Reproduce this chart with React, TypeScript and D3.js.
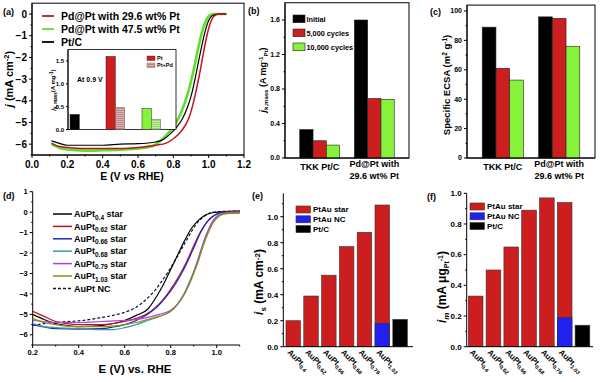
import React from 'react';
import * as d3 from 'd3';

const F = "'Liberation Sans', Arial, Helvetica, sans-serif";

// ---------- Panel (a) data ----------
const aRed: [number, number][] = [[0.11,-5.95],[0.15,-6.1],[0.2,-6.15],[0.3,-6.2],[0.4,-6.2],[0.5,-6.2],[0.6,-6.15],[0.7,-6.05],[0.76,-5.95],[0.8,-5.75],[0.84,-5.45],[0.87,-5.1],[0.89,-4.75],[0.91,-4.2],[0.93,-3.5],[0.95,-2.7],[0.97,-1.8],[0.99,-1.0],[1.01,-0.4],[1.03,-0.1],[1.06,0],[1.1,0]];
const aBlack: [number, number][] = [[0.11,-5.85],[0.15,-5.95],[0.2,-6.05],[0.3,-6.05],[0.4,-6.05],[0.5,-6.0],[0.6,-5.98],[0.7,-5.9],[0.74,-5.8],[0.78,-5.55],[0.82,-5.2],[0.85,-4.85],[0.88,-4.3],[0.9,-3.8],[0.92,-3.1],[0.94,-2.3],[0.96,-1.5],[0.98,-0.8],[1.0,-0.3],[1.02,-0.08],[1.05,0],[1.1,0]];
const aGreen: [number, number][] = [[0.11,-6.0],[0.15,-6.15],[0.2,-6.25],[0.3,-6.3],[0.4,-6.28],[0.5,-6.25],[0.6,-6.2],[0.68,-6.1],[0.72,-5.9],[0.76,-5.6],[0.8,-5.2],[0.83,-4.8],[0.86,-4.2],[0.88,-3.7],[0.9,-3.1],[0.92,-2.4],[0.94,-1.6],[0.96,-0.9],[0.98,-0.4],[1.0,-0.1],[1.03,0],[1.1,0]];
const aLegend = ['Pd@Pt with 29.6 wt% Pt', 'Pd@Pt with 47.5 wt% Pt', 'Pt/C'];
const aXTicks = [0, 0.2, 0.4, 0.6, 0.8, 1.0, 1.2];
const aYTicks = [0, -1, -2, -3, -4, -5, -6];
const insetCats = ['PtC', 'Pd29', 'Pd47'];
const insetPt = [0.33, 1.6, 0.46];
const insetPtPd = [NaN, 0.48, 0.22];
const insetYTicks = [0, 0.5, 1.0, 1.5];

// ---------- Panel (b)/(c) data ----------
const bcCats = ['TKK', 'PdPt'];
const bcSeries = ['Initial', '5,000 cycles', '10,000 cycles'];
const bInitial = [0.33, 1.6];
const b5000 = [0.20, 0.69];
const b10000 = [0.15, 0.68];
const bYTicks = [0, 0.4, 0.8, 1.2, 1.6];
const cInitial = [89, 96];
const c5000 = [61, 95];
const c10000 = [53, 76];
const cYTicks = [0, 20, 40, 60, 80, 100];

// ---------- Panel (d) data ----------
const dNames = ['0.4', '0.62', '0.66', '0.68', '0.79', '1.03'];
const d04: [number, number][] = [[0.2,-5.0],[0.25,-5.25],[0.3,-5.45],[0.35,-5.55],[0.4,-5.6],[0.5,-5.55],[0.55,-5.45],[0.6,-5.3],[0.65,-5.05],[0.7,-4.75],[0.74,-4.1],[0.77,-3.5],[0.8,-2.8],[0.83,-2.1],[0.86,-1.4],[0.89,-0.8],[0.92,-0.4],[0.95,-0.15],[0.98,-0.03],[1.02,0.02],[1.1,0.05]];
const d062: [number, number][] = [[0.2,-4.85],[0.25,-5.1],[0.3,-5.35],[0.35,-5.45],[0.4,-5.5],[0.5,-5.5],[0.6,-5.35],[0.65,-5.2],[0.7,-4.95],[0.74,-4.6],[0.78,-4.1],[0.81,-3.6],[0.84,-3.05],[0.87,-2.4],[0.9,-1.65],[0.93,-0.95],[0.96,-0.45],[0.99,-0.15],[1.02,-0.02],[1.1,0.05]];
const d066: [number, number][] = [[0.2,-5.5],[0.25,-5.62],[0.3,-5.7],[0.4,-5.72],[0.5,-5.7],[0.55,-5.62],[0.6,-5.5],[0.65,-5.3],[0.7,-5.0],[0.74,-4.65],[0.78,-4.15],[0.81,-3.7],[0.84,-3.15],[0.87,-2.5],[0.9,-1.75],[0.93,-1.0],[0.96,-0.45],[0.99,-0.15],[1.02,-0.03],[1.1,0]];
const d068: [number, number][] = [[0.2,-5.45],[0.25,-5.6],[0.3,-5.65],[0.4,-5.7],[0.5,-5.75],[0.55,-5.75],[0.6,-5.65],[0.65,-5.5],[0.7,-5.3],[0.75,-5.1],[0.8,-4.85],[0.83,-4.5],[0.86,-3.95],[0.88,-3.45],[0.9,-2.9],[0.92,-2.25],[0.94,-1.55],[0.96,-0.95],[0.98,-0.5],[1.0,-0.2],[1.03,-0.05],[1.1,0]];
const d079: [number, number][] = [[0.2,-5.3],[0.25,-5.35],[0.3,-5.4],[0.4,-5.4],[0.5,-5.35],[0.6,-5.3],[0.65,-5.25],[0.7,-5.15],[0.75,-5.0],[0.8,-4.8],[0.83,-4.5],[0.86,-4.0],[0.88,-3.5],[0.9,-2.95],[0.92,-2.3],[0.94,-1.6],[0.96,-1.0],[0.98,-0.5],[1.0,-0.22],[1.03,-0.08],[1.1,-0.05]];
const d103: [number, number][] = [[0.2,-5.2],[0.25,-5.4],[0.3,-5.5],[0.4,-5.6],[0.5,-5.6],[0.6,-5.5],[0.65,-5.4],[0.7,-5.25],[0.75,-5.1],[0.8,-4.85],[0.83,-4.5],[0.86,-4.0],[0.88,-3.55],[0.9,-3.0],[0.92,-2.4],[0.94,-1.7],[0.96,-1.1],[0.98,-0.6],[1.0,-0.3],[1.03,-0.1],[1.06,-0.05],[1.1,-0.05]];
const dNC: [number, number][] = [[0.2,-5.55],[0.25,-5.45],[0.3,-5.4],[0.35,-5.35],[0.4,-5.32],[0.45,-5.25],[0.5,-5.15],[0.55,-5.05],[0.6,-4.9],[0.65,-4.65],[0.7,-4.2],[0.73,-3.85],[0.76,-3.4],[0.79,-2.9],[0.82,-2.35],[0.85,-1.75],[0.88,-1.15],[0.91,-0.6],[0.94,-0.25],[0.97,-0.05],[1.0,0.02],[1.1,0.05]];
const dXTicks = [0.2, 0.4, 0.6, 0.8, 1.0];
const dYTicks = [1, 0, -1, -2, -3, -4, -5, -6];

// ---------- Panel (e)/(f) data ----------
const efCats = ['0.4', '0.62', '0.66', '0.68', '0.79', '1.03', 'PtC'];
const eStar = [0.20, 0.39, 0.55, 0.77, 0.88, 1.09];
const eNC = [0, 0, 0, 0, 0, 0.18];
const ePtC = 0.21;
const fStar = [0.33, 0.50, 0.65, 0.89, 0.97, 0.94];
const fNC = [0, 0, 0, 0, 0, 0.19];
const fPtC = 0.14;
const efLegend = ['PtAu star', 'PtAu NC', 'Pt/C'];
const eYTicks = [0, 0.2, 0.4, 0.6, 0.8, 1.0];
const fYTicks = [0, 0.2, 0.4, 0.6, 0.8, 1.0];

const RED = '#cc1e1e';
const GREEN = '#86f23a';
const BLUE = '#2020f0';

type Sc = d3.ScaleLinear<number, number>;

function AxisLeft({ y, x, major, minor, fmt, fs, len = 3 }: { y: Sc; x: number; major: number[]; minor: number[]; fmt: (v: number) => string; fs: number; len?: number }) {
  const [r0, r1] = y.range();
  return (
    <g>
      <line x1={x} x2={x} y1={r0} y2={r1} stroke="#000" strokeWidth={1} />
      {major.map((v) => <line key={'M' + v} x1={x - len} x2={x} y1={y(v)} y2={y(v)} stroke="#000" strokeWidth={1} />)}
      {minor.map((v) => <line key={'m' + v} x1={x - len / 2} x2={x} y1={y(v)} y2={y(v)} stroke="#000" strokeWidth={1} />)}
      {major.map((v) => (
        <text key={'t' + v} x={x - len - 2} y={y(v)} dy="0.35em" textAnchor="end" fontSize={fs} fontWeight="bold" fontFamily={F}>{fmt(v)}</text>
      ))}
    </g>
  );
}

function AxisBottom({ x, y, major, minor, fmt, fs, len = 3 }: { x: Sc; y: number; major: number[]; minor: number[]; fmt: (v: number) => string; fs: number; len?: number }) {
  const [r0, r1] = x.range();
  return (
    <g>
      <line x1={r0} x2={r1} y1={y} y2={y} stroke="#000" strokeWidth={1} />
      {major.map((v) => <line key={'M' + v} x1={x(v)} x2={x(v)} y1={y} y2={y + len} stroke="#000" strokeWidth={1} />)}
      {minor.map((v) => <line key={'m' + v} x1={x(v)} x2={x(v)} y1={y} y2={y + len / 2} stroke="#000" strokeWidth={1} />)}
      {major.map((v) => (
        <text key={'t' + v} x={x(v)} y={y + len + fs * 0.95} textAnchor="middle" fontSize={fs} fontWeight="bold" fontFamily={F}>{fmt(v)}</text>
      ))}
    </g>
  );
}

const f1 = d3.format('.1f');
const f0 = d3.format('d');

function PanelA() {
  const x = d3.scaleLinear().domain([0, 1.2]).range([32, 244]);
  const y = d3.scaleLinear().domain([-6.5, 0.5]).range([155, 3.2]);
  const line = d3.line<[number, number]>().x((d) => x(d[0])).y((d) => y(d[1])).curve(d3.curveMonotoneX);
  const series = [
    { d: aGreen, c: '#5ee02a', w: 2.6 },
    { d: aBlack, c: '#000', w: 1.2 },
    { d: aRed, c: '#c0141e', w: 1.5 },
  ];
  const legendColors = ['#c0141e', '#5ee02a', '#000'];
  // inset
  const xi = d3.scaleBand<string>().domain(insetCats).range([68, 162.6]).paddingInner(0.483).paddingOuter(0.056);
  const yi = d3.scaleLinear().domain([0, 1.75]).range([129.5, 49.6]);
  const bw = xi.bandwidth() / 2;
  const insetColors = ['#000', RED, GREEN];
  const insetHatch = ['', 'url(#hatchPink)', 'url(#hatchGreen)'];
  return (
    <g>
      <rect x={32} y={3.2} width={212} height={151.8} fill="none" stroke="#000" strokeWidth={1} />
      <AxisBottom x={x} y={155} major={aXTicks} minor={d3.range(0.1, 1.2, 0.2)} fmt={f1} fs={10} />
      <AxisLeft y={y} x={32} major={aYTicks} minor={d3.range(-6.5, 0.5, 1)} fmt={f0} fs={10} />
      {series.map((s, i) => <path key={i} d={line(s.d) || ''} fill="none" stroke={s.c} strokeWidth={s.w} />)}
      {aLegend.map((t, i) => (
        <g key={t}>
          <line x1={42} x2={54} y1={16 + i * 13} y2={16 + i * 13} stroke={legendColors[i]} strokeWidth={1.8} />
          <text x={61} y={16 + i * 13} dy="0.36em" fontSize={10.5} fontWeight="bold" fontFamily={F}>{t}</text>
        </g>
      ))}
      <text x={9} y={79} transform="rotate(-90 9 79)" textAnchor="middle" dy="0.35em" fontSize={11} fontWeight="bold" fontFamily={F}>
        <tspan fontStyle="italic">j</tspan> (mA cm<tspan dy={-3.5} fontSize={7.5}>-2</tspan><tspan dy={3.5}>)</tspan>
      </text>
      <text x={132} y={179.5} textAnchor="middle" fontSize={10.5} fontWeight="bold" fontFamily={F}>
        E (V <tspan fontStyle="italic">vs</tspan> RHE)
      </text>
      <text x={3} y={15} fontSize={9} fontWeight="bold" fontFamily={F}>(a)</text>
      {/* inset */}
      <rect x={68} y={49.6} width={108} height={79.9} fill="#fff" stroke="#000" strokeWidth={0.8} />
      <AxisLeft y={yi} x={68} major={insetYTicks} minor={[]} fmt={f1} fs={6} len={2} />
      {insetCats.map((c, i) => (
        <g key={c}>
          <rect x={xi(c)!} y={yi(insetPt[i])} width={bw} height={yi(0) - yi(insetPt[i])} fill={insetColors[i]} stroke="#222" strokeWidth={0.5} />
          {!isNaN(insetPtPd[i]) && (
            <rect x={xi(c)! + bw} y={yi(insetPtPd[i])} width={bw} height={yi(0) - yi(insetPtPd[i])} fill={insetHatch[i]} stroke="#555" strokeWidth={0.5} />
          )}
        </g>
      ))}
      <text x={77} y={80} dy="0.35em" fontSize={7} fontWeight="bold" fontFamily={F}>At 0.9 V</text>
      <rect x={147} y={56} width={8} height={4.5} fill={RED} stroke="#222" strokeWidth={0.4} />
      <text x={157} y={58.3} dy="0.35em" fontSize={5.5} fontWeight="bold" fontFamily={F}>Pt</text>
      <rect x={147} y={63} width={8} height={4.5} fill="url(#hatchPink)" stroke="#555" strokeWidth={0.4} />
      <text x={157} y={65.3} dy="0.35em" fontSize={5.5} fontWeight="bold" fontFamily={F}>Pt+Pd</text>
      <text x={55} y={90} transform="rotate(-90 55 90)" textAnchor="middle" fontSize={6} fontWeight="bold" fontFamily={F}>
        <tspan fontStyle="italic">j</tspan><tspan dy={1.5} fontSize={4.5}>k, mass</tspan><tspan dy={-1.5}>(A mg</tspan><tspan dy={-2} fontSize={4.5}>-1</tspan><tspan dy={2}>)</tspan>
      </text>
    </g>
  );
}

function GroupedBars({ x0, x1, y, vals, colors }: { x0: d3.ScaleBand<string>; x1: d3.ScaleBand<string>; y: Sc; vals: number[][]; colors: string[] }) {
  return (
    <g>
      {bcCats.map((c, ci) =>
        bcSeries.map((s, si) => (
          <rect key={c + s} x={x0(c)! + x1(s)!} y={y(vals[si][ci])} width={x1.bandwidth()} height={y(0) - y(vals[si][ci])} fill={colors[si]} stroke="#222" strokeWidth={0.6} />
        ))
      )}
    </g>
  );
}

function CatLabels({ x0, yBase }: { x0: d3.ScaleBand<string>; yBase: number }) {
  const c0 = x0(bcCats[0])! + x0.bandwidth() / 2;
  const c1 = x0(bcCats[1])! + x0.bandwidth() / 2;
  return (
    <g fontSize={9} fontWeight="bold" fontFamily={F} textAnchor="middle">
      <text x={c0} y={yBase + 12}>TKK Pt/C</text>
      <text x={c1} y={yBase + 8.5}>Pd@Pt with</text>
      <text x={c1} y={yBase + 20.5}>29.6 wt% Pt</text>
    </g>
  );
}

const barColors = ['#000', RED, GREEN];

function PanelB() {
  const x0 = d3.scaleBand<string>().domain(bcCats).range([285, 409]).paddingInner(0.27).paddingOuter(0.27);
  const x1 = d3.scaleBand<string>().domain(bcSeries).range([0, x0.bandwidth()]);
  const y = d3.scaleLinear().domain([0, 1.8]).range([158, 2.75]);
  return (
    <g>
      <rect x={285} y={2.75} width={124} height={155.25} fill="none" stroke="#000" strokeWidth={1} />
      <GroupedBars x0={x0} x1={x1} y={y} vals={[bInitial, b5000, b10000]} colors={barColors} />
      <AxisLeft y={y} x={285} major={bYTicks} minor={[0.2, 0.6, 1.0, 1.4]} fmt={f1} fs={7} />
      <line x1={285} x2={409} y1={158} y2={158} stroke="#000" />
      <CatLabels x0={x0} yBase={158} />
      {bcSeries.map((s, i) => (
        <g key={s}>
          <rect x={293} y={15 + i * 14} width={12} height={7.7} fill={barColors[i]} stroke="#222" strokeWidth={0.6} />
          <text x={306.5} y={19 + i * 14} dy="0.35em" fontSize={7.3} fontWeight="bold" fontFamily={F}>{s}</text>
        </g>
      ))}
      <text x={266} y={80} transform="rotate(-90 266 80)" textAnchor="middle" fontSize={9} fontWeight="bold" fontFamily={F}>
        <tspan fontStyle="italic">j</tspan><tspan dy={2} fontSize={6}>k,mass</tspan><tspan dy={-2}> (A mg</tspan><tspan dy={-3} fontSize={6}>-1</tspan><tspan dy={5} fontSize={6}>Pt</tspan><tspan dy={-2}>)</tspan>
      </text>
      <text x={248} y={14} fontSize={9} fontWeight="bold" fontFamily={F}>(b)</text>
    </g>
  );
}

function PanelC() {
  const x0 = d3.scaleBand<string>().domain(bcCats).range([467, 595]).paddingInner(0.27).paddingOuter(0.27);
  const x1 = d3.scaleBand<string>().domain(bcSeries).range([0, x0.bandwidth()]);
  const y = d3.scaleLinear().domain([0, 104]).range([158, 5.1]);
  return (
    <g>
      <rect x={467} y={5.1} width={128} height={152.9} fill="none" stroke="#000" strokeWidth={1} />
      <GroupedBars x0={x0} x1={x1} y={y} vals={[cInitial, c5000, c10000]} colors={barColors} />
      <AxisLeft y={y} x={467} major={cYTicks} minor={[10, 30, 50, 70, 90]} fmt={f0} fs={7} />
      <line x1={467} x2={595} y1={158} y2={158} stroke="#000" />
      <CatLabels x0={x0} yBase={158} />
      <text x={450} y={85} transform="rotate(-90 450 85)" textAnchor="middle" fontSize={9.5} fontWeight="bold" fontFamily={F}>
        Specific ECSA (m<tspan dy={-3} fontSize={6.5}>2</tspan><tspan dy={3}> g</tspan><tspan dy={-3} fontSize={6.5}>-1</tspan><tspan dy={3}>)</tspan>
      </text>
      <text x={430} y={15} fontSize={9} fontWeight="bold" fontFamily={F}>(c)</text>
    </g>
  );
}

function PanelD() {
  const x = d3.scaleLinear().domain([0.2, 1.1]).range([32.7, 239.7]);
  const y = d3.scaleLinear().domain([-6.5, 1]).range([345, 191.7]);
  const line = d3.line<[number, number]>().x((d) => x(d[0])).y((d) => y(d[1])).curve(d3.curveMonotoneX);
  const series = [d04, d062, d066, d068, d079, d103];
  const colors = ['#000', '#b8161c', '#2424c8', '#3a9c9c', '#b440e0', '#8c8c10'];
  return (
    <g>
      <AxisBottom x={x} y={345} major={dXTicks} minor={[0.3, 0.5, 0.7, 0.9, 1.1]} fmt={f1} fs={7.5} />
      <AxisLeft y={y} x={32.7} major={dYTicks} minor={d3.range(-6.5, 1, 1)} fmt={f0} fs={7.5} />
      <path d={line(dNC) || ''} fill="none" stroke="#101040" strokeWidth={1.2} strokeDasharray="3,2" />
      {series.map((s, i) => <path key={i} d={line(s) || ''} fill="none" stroke={colors[i]} strokeWidth={1.2} />)}
      {dNames.map((n, i) => (
        <g key={n}>
          <line x1={53} x2={72} y1={214 + i * 12.4} y2={214 + i * 12.4} stroke={colors[i]} strokeWidth={1.5} />
          <text x={74} y={214 + i * 12.4} dy="0.35em" fontSize={9} fontWeight="bold" fontFamily={F}>
            AuPt<tspan dy={2.5} fontSize={6.5}>{n}</tspan><tspan dy={-2.5}> star</tspan>
          </text>
        </g>
      ))}
      <line x1={53} x2={72} y1={214 + 6 * 12.4} y2={214 + 6 * 12.4} stroke="#101040" strokeWidth={1.5} strokeDasharray="3,2" />
      <text x={74} y={214 + 6 * 12.4} dy="0.35em" fontSize={9} fontWeight="bold" fontFamily={F}>AuPt NC</text>
      <text x={135} y={373} textAnchor="middle" fontSize={11.5} fontWeight="bold" fontFamily={F}>E (V) vs. RHE</text>
      <text x={3} y={199} fontSize={9} fontWeight="bold" fontFamily={F}>(d)</text>
    </g>
  );
}

function StackBars({ x, y, star, nc, ptc }: { x: d3.ScaleBand<string>; y: Sc; star: number[]; nc: number[]; ptc: number }) {
  const bw = x.bandwidth();
  return (
    <g>
      {star.map((v, i) => (
        <g key={i}>
          <rect x={x(efCats[i])!} y={y(v)} width={bw} height={y(0) - y(v)} fill={RED} stroke="#333" strokeWidth={0.6} />
          {nc[i] > 0 && <rect x={x(efCats[i])!} y={y(nc[i])} width={bw} height={y(0) - y(nc[i])} fill={BLUE} stroke="#333" strokeWidth={0.6} />}
        </g>
      ))}
      <rect x={x('PtC')!} y={y(ptc)} width={bw} height={y(0) - y(ptc)} fill="#000" stroke="#333" strokeWidth={0.6} />
    </g>
  );
}

function XCatLabels({ x, y0 }: { x: d3.ScaleBand<string>; y0: number }) {
  return (
    <g>
      {efCats.slice(0, 6).map((c) => {
        const px = x(c)! + 1;
        const py = y0 + 6;
        return (
          <text key={c} x={px} y={py} transform={`rotate(45 ${px} ${py})`} fontSize={8} fontWeight="bold" fontFamily={F}>
            AuPt<tspan dy={2} fontSize={5.5}>{c}</tspan>
          </text>
        );
      })}
    </g>
  );
}

function EFLegend({ x0, y0 }: { x0: number; y0: number }) {
  const cols = [RED, BLUE, '#000'];
  return (
    <g>
      {efLegend.map((t, i) => (
        <g key={t}>
          <rect x={x0} y={y0 + i * 9.8} width={14.5} height={7} fill={cols[i]} stroke="#333" strokeWidth={0.6} />
          <text x={x0 + 17} y={y0 + 3.5 + i * 9.8} dy="0.35em" fontSize={8} fontWeight="bold" fontFamily={F}>{t}</text>
        </g>
      ))}
    </g>
  );
}

function PanelE() {
  const x = d3.scaleBand<string>().domain(efCats).range([283.3, 410]).paddingInner(0.185).paddingOuter(0.15);
  const y = d3.scaleLinear().domain([0, 1.18]).range([346.7, 193.3]);
  return (
    <g>
      <StackBars x={x} y={y} star={eStar} nc={eNC} ptc={ePtC} />
      <AxisLeft y={y} x={283.3} major={eYTicks} minor={[0.1, 0.3, 0.5, 0.7, 0.9, 1.1]} fmt={f1} fs={8} />
      <line x1={283.3} x2={413} y1={346.7} y2={346.7} stroke="#000" />
      <XCatLabels x={x} y0={346.7} />
      <EFLegend x0={296} y0={206} />
      <text x={263} y={282} transform="rotate(-90 263 282)" textAnchor="middle" fontSize={12} fontWeight="bold" fontFamily={F}>
        <tspan fontStyle="italic">i</tspan><tspan dy={2.5} fontSize={8}>s</tspan><tspan dy={-2.5}> (mA cm</tspan><tspan dy={-3.5} fontSize={8}>-2</tspan><tspan dy={3.5}>)</tspan>
      </text>
      <text x={252} y={199} fontSize={9} fontWeight="bold" fontFamily={F}>(e)</text>
    </g>
  );
}

function PanelF() {
  const x = d3.scaleBand<string>().domain(efCats).range([466.7, 591.4]).paddingInner(0.175).paddingOuter(0.09);
  const y = d3.scaleLinear().domain([0, 1.0]).range([346.7, 193.3]);
  return (
    <g>
      <StackBars x={x} y={y} star={fStar} nc={fNC} ptc={fPtC} />
      <AxisLeft y={y} x={466.7} major={fYTicks} minor={[0.1, 0.3, 0.5, 0.7, 0.9]} fmt={f1} fs={8} />
      <line x1={466.7} x2={593} y1={346.7} y2={346.7} stroke="#000" />
      <XCatLabels x={x} y0={346.7} />
      <EFLegend x0={470} y0={203} />
      <text x={446} y={287} transform="rotate(-90 446 287)" textAnchor="middle" fontSize={12} fontWeight="bold" fontFamily={F}>
        <tspan fontStyle="italic">i</tspan><tspan dy={2.5} fontSize={8} fontStyle="italic">m</tspan><tspan dy={-2.5}> (mA μg</tspan><tspan dy={2.5} fontSize={7}>Pt</tspan><tspan dy={-6} fontSize={7}>-1</tspan><tspan dy={3.5}>)</tspan>
      </text>
      <text x={427} y={200} fontSize={9} fontWeight="bold" fontFamily={F}>(f)</text>
    </g>
  );
}

export default function App() {
  return (
    <svg width={600} height={382} style={{ position: 'absolute', left: 0, top: 0, background: '#fff' }}>
      <defs>
        <pattern id="hatchPink" width="4" height="2" patternUnits="userSpaceOnUse">
          <rect width="4" height="2" fill="#e0b0ae" />
          <line x1="0" x2="4" y1="0.5" y2="0.5" stroke="#a86a68" strokeWidth="0.6" />
        </pattern>
        <pattern id="hatchGreen" width="4" height="2" patternUnits="userSpaceOnUse">
          <rect width="4" height="2" fill="#b8f590" />
          <line x1="0" x2="4" y1="0.5" y2="0.5" stroke="#80c060" strokeWidth="0.6" />
        </pattern>
      </defs>
      <rect width={600} height={382} fill="#fff" />
      <PanelA />
      <PanelB />
      <PanelC />
      <PanelD />
      <PanelE />
      <PanelF />
    </svg>
  );
}
